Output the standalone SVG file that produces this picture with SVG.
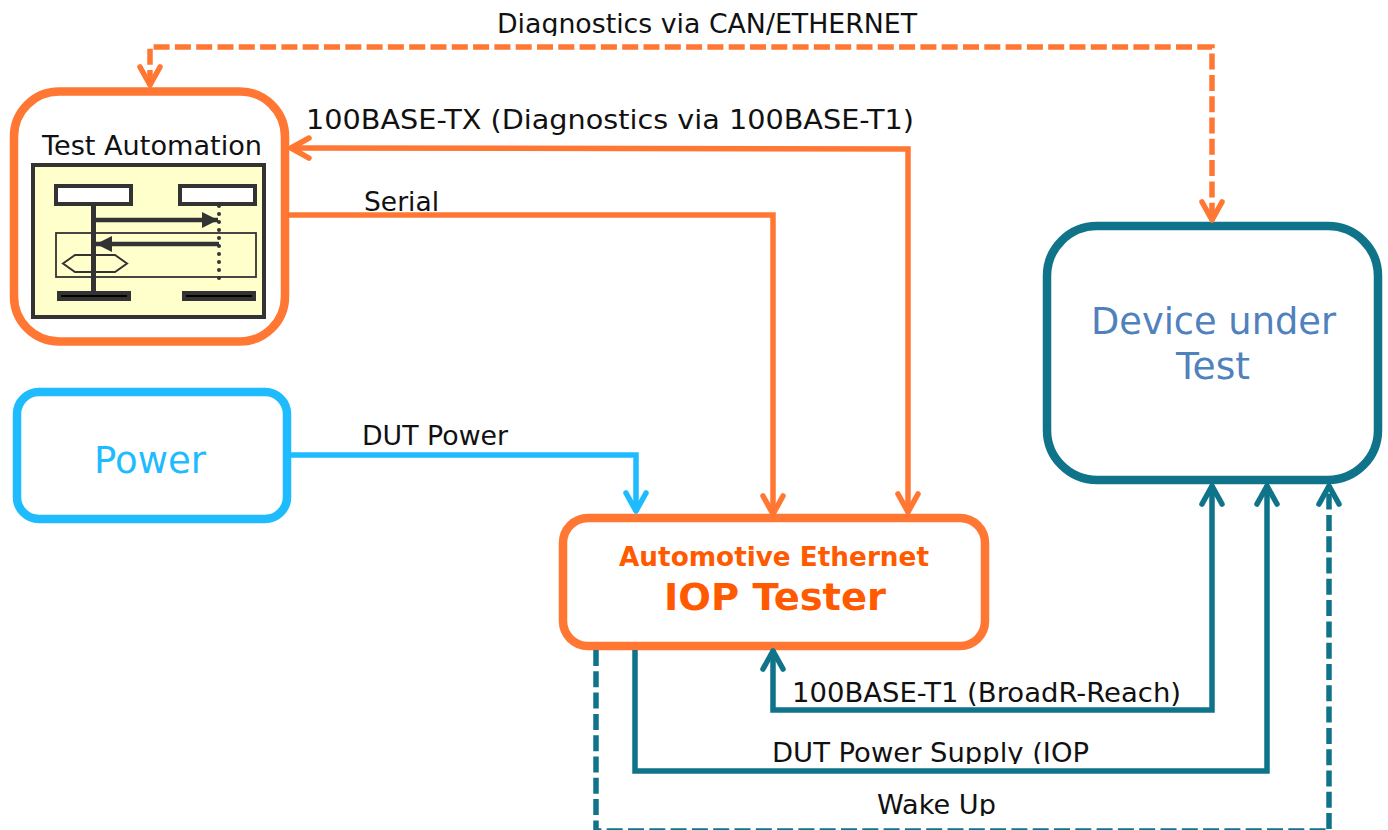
<svg xmlns="http://www.w3.org/2000/svg" width="1388" height="830" viewBox="0 0 1388 830">
<style>
text{font-family:"DejaVu Sans",Verdana,sans-serif;fill:#111;font-size:27px}
.big{font-size:38px}
.o{stroke:#FF7733}.b{stroke:#1FBBFF}.t{stroke:#0F7489}
.box{fill:#fff;stroke-width:8.5}
.c{fill:none;stroke-width:5.5}
.d{stroke-dasharray:16 5.3}
.dark{stroke:#333;fill:none}
</style>
<defs>
<marker id="ao" markerUnits="userSpaceOnUse" markerWidth="30" markerHeight="30" refX="23" refY="15" orient="auto-start-reverse"><path d="M4,5L22,15L4,25" fill="none" stroke="#FF7733" stroke-width="5.500" stroke-linecap="round" stroke-linejoin="round"/></marker>
<marker id="ab" markerUnits="userSpaceOnUse" markerWidth="30" markerHeight="30" refX="23" refY="15" orient="auto-start-reverse"><path d="M4,5L22,15L4,25" fill="none" stroke="#1FBBFF" stroke-width="5.500" stroke-linecap="round" stroke-linejoin="round"/></marker>
<marker id="at" markerUnits="userSpaceOnUse" markerWidth="30" markerHeight="30" refX="23" refY="15" orient="auto-start-reverse"><path d="M4,5L22,15L4,25" fill="none" stroke="#0F7489" stroke-width="5.500" stroke-linecap="round" stroke-linejoin="round"/></marker>
<marker id="f" markerUnits="userSpaceOnUse" markerWidth="20" markerHeight="20" refX="16" refY="10" orient="auto"><path d="M0,2L16,10L0,18Z" fill="#333"/></marker>
<clipPath id="c1"><rect x="480" y="0" width="460" height="36"/></clipPath>
<clipPath id="c2"><rect x="760" y="730" width="340" height="34"/></clipPath>
<clipPath id="c3"><rect x="860" y="785" width="150" height="31"/></clipPath>
</defs>
<g id="test-automation">
<rect class="box o" x="14" y="91.500" width="271" height="250" rx="45"/>
<text x="42" y="155" textLength="220" lengthAdjust="spacingAndGlyphs">Test Automation</text>
<rect x="33" y="165" width="231" height="152" fill="#FFFFCC" stroke="#333" stroke-width="4"/>
<rect x="56" y="186" width="75" height="18" fill="#fff" stroke="#333" stroke-width="4"/>
<rect x="180" y="186" width="75" height="18" fill="#fff" stroke="#333" stroke-width="4"/>
<rect x="56" y="233" width="200" height="44" class="dark" stroke-width="1.800"/>
<path class="dark" stroke-width="5" d="M93.500,205V292"/>
<path class="dark" stroke-width="4" stroke-dasharray="0 8" stroke-linecap="round" d="M219,206V286"/>
<path class="dark" stroke-width="4.500" d="M96,220H218" marker-end="url(#f)"/>
<path class="dark" stroke-width="4.500" d="M219,244H96" marker-end="url(#f)"/>
<path class="dark" stroke-width="2" d="M63,263.500L75,255H115L127,263.500L115,272H75Z"/>
<rect x="57" y="291" width="74" height="10" fill="#333"/>
<rect x="182" y="291" width="74" height="10" fill="#333"/>
<path d="M61,296H127M186,296H252" stroke="#000" stroke-width="2"/>
</g>
<g id="power">
<rect class="box b" x="17" y="392" width="270" height="127" rx="22"/>
<text class="big" x="94" y="473" textLength="112" lengthAdjust="spacingAndGlyphs" style="fill:#1FBBFF">Power</text>
</g>
<g id="dut">
<rect class="box t" x="1047" y="226" width="331" height="254" rx="50"/>
<text class="big" x="1091" y="334" textLength="245" lengthAdjust="spacingAndGlyphs" style="fill:#4F81BD">Device under</text>
<text class="big" x="1176" y="379" textLength="74" lengthAdjust="spacingAndGlyphs" style="fill:#4F81BD">Test</text>
</g>
<g id="iop-tester">
<rect class="box o" x="563" y="518" width="422" height="128" rx="25"/>
<text x="619" y="566" textLength="310" lengthAdjust="spacingAndGlyphs" style="fill:#FF5A00;font-weight:bold;font-size:26px">Automotive Ethernet</text>
<text class="big" x="664" y="610" textLength="222" lengthAdjust="spacingAndGlyphs" style="fill:#FF5A00;font-weight:bold">IOP Tester</text>
</g>
<g id="connectors">
<path class="c o d" d="M150,86V47H1212V221" marker-start="url(#ao)" marker-end="url(#ao)"/>
<path class="c o" d="M290,148L908,149V513" marker-start="url(#ao)" marker-end="url(#ao)"/>
<path class="c o" d="M289,215H773V515" marker-end="url(#ao)"/>
<path class="c b" d="M291,455H636V512" marker-end="url(#ab)"/>
<path class="c t" d="M1212,485V710H773V650" marker-start="url(#at)" marker-end="url(#at)"/>
<path class="c t" d="M635,650V771H1267V485" marker-end="url(#at)"/>
<path class="c t d" d="M596,650V831H1329V485" marker-end="url(#at)"/>
</g>
<g id="labels">
<text x="497" y="33" textLength="420" lengthAdjust="spacingAndGlyphs" clip-path="url(#c1)">Diagnostics via CAN/ETHERNET</text>
<text x="306" y="129" textLength="608" lengthAdjust="spacingAndGlyphs">100BASE-TX (Diagnostics via 100BASE-T1)</text>
<text x="364" y="211" textLength="75" lengthAdjust="spacingAndGlyphs">Serial</text>
<text x="362" y="445" textLength="146" lengthAdjust="spacingAndGlyphs">DUT Power</text>
<text x="792" y="702" textLength="389" lengthAdjust="spacingAndGlyphs">100BASE-T1 (BroadR-Reach)</text>
<text x="772" y="762" textLength="317" lengthAdjust="spacingAndGlyphs" clip-path="url(#c2)">DUT Power Supply (IOP</text>
<text x="877" y="814" textLength="119" lengthAdjust="spacingAndGlyphs" clip-path="url(#c3)">Wake Up</text>
</g>
</svg>
